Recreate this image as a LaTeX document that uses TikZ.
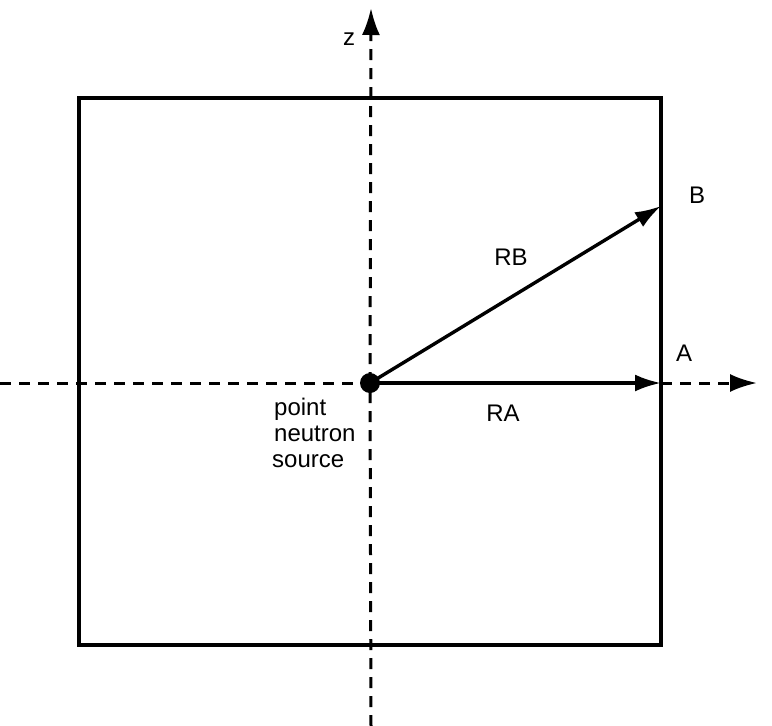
\documentclass[tikz,border=0pt]{standalone}
\usepackage{fontspec}
\setmainfont{Liberation Sans}
\usetikzlibrary{arrows.meta}
\begin{document}
\begin{tikzpicture}[x=1pt,y=-1pt,
  axis/.style={line width=3pt,dash pattern=on 11pt off 8pt},
  bigtip/.style={-{Latex[length=27pt,width=18pt]}},
  vec/.style={line width=3.4pt,-{Latex[length=26pt,width=17pt]}},
  lab/.style={font=\fontsize{24}{26}\selectfont,inner sep=0pt}]
\useasboundingbox (0,0) rectangle (772,726);
\coordinate (O) at (370,383);
\coordinate (xl) at (0,383);
\coordinate (xr) at (757,383);
\coordinate (zt) at (371,8);
\coordinate (zb) at (371,726);
\coordinate (Bp) at (661,206);
\coordinate (Ap) at (661,383);
\draw[line width=3.2pt] (79,98) rectangle (661,645);
\draw[axis] (xl) -- (O);
\draw[axis,bigtip] (Ap) -- (xr);
\draw[axis] (zb) -- (O);
\draw[axis,bigtip] (O) -- (zt);
\draw[vec] (O) -- (Ap);
\draw[vec] (O) -- (Bp);
\fill (O) circle (10pt);
\node[lab] (z) at (349,39) {z};
\node[lab] (B) at (697,195) {B};
\node[lab] (A) at (684,353) {A};
\node[lab] (RB) at (511,257) {RB};
\node[lab] (RA) at (503,413) {RA};
\node[lab,align=left,anchor=north west] (src) at (272,398) {\hspace*{2pt}point\\\hspace*{2pt}neutron\\source};
\end{tikzpicture}
\end{document}
